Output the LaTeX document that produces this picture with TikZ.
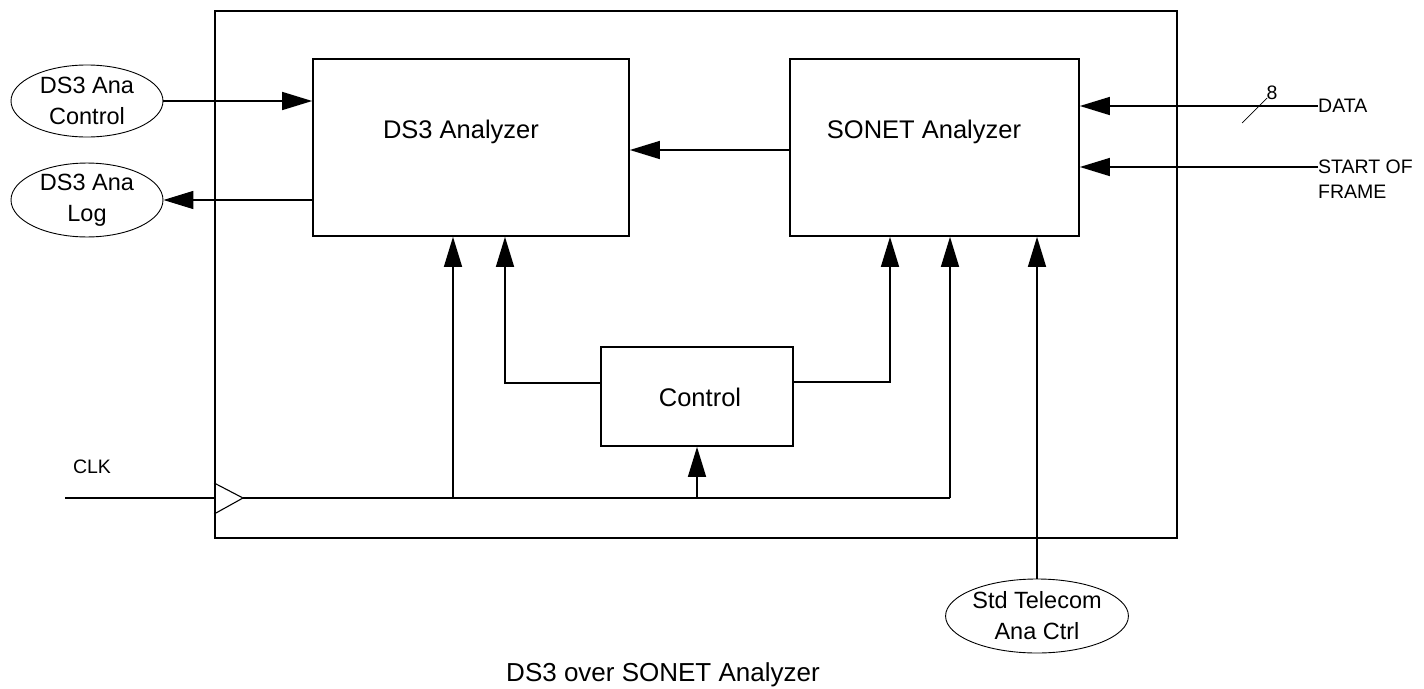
\documentclass[tikz,border=0pt]{standalone}
\usepackage{fontspec}
\setmainfont{Liberation Sans}
\usetikzlibrary{arrows.meta,shapes.geometric}
\begin{document}
\begin{tikzpicture}[x=1pt,y=-1pt,
 box/.style={draw,line width=1.7pt,inner sep=0pt},
 oval/.style={draw,ellipse,line width=0.9pt,inner sep=0pt,align=center,font=\fontsize{23.5}{31}\selectfont},
 wire/.style={line width=1.5pt},
 arr/.style={wire,-{Triangle[length=30pt,width=18pt]}},
 lbl/.style={inner sep=0pt,font=\fontsize{19.5}{25}\selectfont},
 btxt/.style={inner sep=0pt,anchor=base,font=\fontsize{25.5}{30}\selectfont}]
\useasboundingbox (0,0) rectangle (1424,688);
% blocks
\node[box,minimum width=962pt,minimum height=527pt] (outer) at (696,274.5) {};
\node[box,minimum width=316pt,minimum height=177pt] (ds3) at (471,147.5) {};
\node[box,minimum width=289pt,minimum height=177pt] (sonet) at (934.5,147.5) {};
\node[box,minimum width=192pt,minimum height=99pt] (ctrl) at (697,396.5) {};
\node[btxt] (ds3t) at (461,138) {DS3 Analyzer};
\node[btxt] (sonett) at (924,138) {SONET Analyzer};
\node[btxt] (ctrlt) at (700,406) {Control};
% ellipses
\node[oval,minimum width=152pt,minimum height=72pt] (ea) at (87,101) {DS3 Ana\\Control};
\node[oval,minimum width=152pt,minimum height=70pt] (eb) at (87,200) {DS3 Ana\\Log};
\node[oval,minimum width=162pt,minimum height=74pt] (std) at (1037,616) {Std Telecom\\Ana Ctrl};
% labels
\node[lbl,anchor=west] (data) at (1318,106) {DATA};
\node[lbl,anchor=north west,align=left] (sof) at (1318,160) {START OF\\FRAME};
\coordinate (sofin) at (1318,167);
\node[lbl] (eight) at (1272,93) {8};
\node[lbl] (clk) at (92,467) {CLK};
\node[inner sep=0pt,anchor=base,font=\fontsize{26}{30}\selectfont] (cap) at (663,681) {DS3 over SONET Analyzer};
% connectors
\coordinate (mid) at (710,150);
\draw[arr] (ea.east) -- (ea.east -| ds3.west);
\draw[arr] (eb.east -| ds3.west) -- (eb.east);
\draw[arr] (mid -| sonet.west) -- (mid -| ds3.east);
\draw[arr] (data.west) -- (data.west -| sonet.east);
\draw[line width=0.7pt] (1242,123) -- (1267,98);
\draw[arr] (sofin) -- (sofin -| sonet.east);
% clock
\coordinate (clkin) at (65,498);
\coordinate (ctip) at (243,498);
\coordinate (j1) at (453,498);
\coordinate (j5) at (950,498);
\draw[wire] (clkin) -- (clkin -| outer.west);
\draw[line width=1.1pt] (outer.west |- 0,483) -- (ctip) -- (outer.west |- 0,514);
\draw[wire] (ctip) -- (j5);
\draw[arr] (j1) -- (j1 |- ds3.south);
\draw[arr] (ctrl.south |- ctip) -- (ctrl.south);
\draw[arr] (j5) -- (j5 |- sonet.south);
% control outputs
\coordinate (c2) at (505,383);
\coordinate (c4) at (890,382);
\draw[arr] (c2 -| ctrl.west) -- (c2) -- (c2 |- ds3.south);
\draw[arr] (c4 -| ctrl.east) -- (c4) -- (c4 |- sonet.south);
\draw[arr] (std.north) -- (std.north |- sonet.south);
\end{tikzpicture}
\end{document}
